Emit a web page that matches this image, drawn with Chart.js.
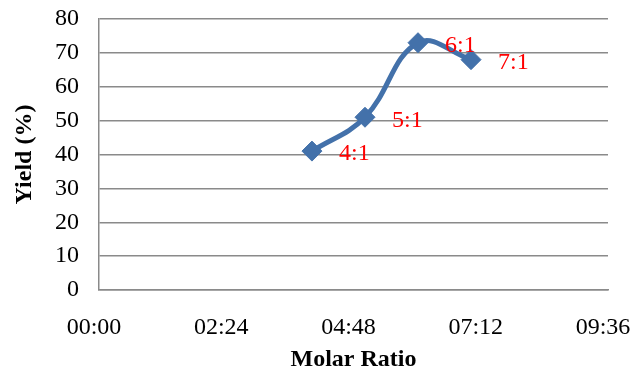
<!DOCTYPE html>
<html>
<head>
<meta charset="utf-8">
<script src="https://cdn.jsdelivr.net/npm/chart.js@4/dist/chart.umd.min.js"></script>
<style>
  html, body { margin: 0; padding: 0; background: #fff; }
  #wrap { width: 630px; height: 372px; }
</style>
</head>
<body>
<div id="wrap"><canvas id="yieldChart" width="630" height="372"></canvas></div>
<script>
// molar ratios (Excel read them as times, so x is in minutes)
const ratioLabels = ["4:1", "5:1", "6:1", "7:1"];
const ratioMinutes = [241, 301, 361, 421];
const yieldValues = [41, 51, 73, 68];

// axis ticks
const xTickMinutes = [0, 144, 288, 432, 576];
const yTicks = [0, 10, 20, 30, 40, 50, 60, 70, 80];

const serif = "'Liberation Serif', 'Times New Roman', serif";
const gridGray = "#8a8a8a";

function toClock(mins) {
  const h = Math.floor(mins / 60);
  const m = Math.round(mins % 60);
  return String(h).padStart(2, "0") + ":" + String(m).padStart(2, "0");
}

// red ratio labels to the right of each point
const ratioLabelPlugin = {
  id: "ratioLabels",
  afterDatasetsDraw(chart) {
    const ctx = chart.ctx;
    const meta = chart.getDatasetMeta(0);
    ctx.save();
    ctx.fillStyle = "#ff0000";
    ctx.font = "24px " + serif;
    ctx.textAlign = "left";
    ctx.textBaseline = "middle";
    meta.data.forEach((pt, i) => {
      ctx.fillText(ratioLabels[i], pt.x + 27, pt.y + 3);
    });
    ctx.restore();
  }
};

new Chart(document.getElementById("yieldChart"), {
  type: "line",
  data: {
    datasets: [{
      data: ratioMinutes.map((x, i) => ({ x: x, y: yieldValues[i] })),
      borderColor: "#4371aa",
      backgroundColor: "#4371aa",
      borderWidth: 5,
      tension: 0.4,
      pointStyle: "rectRot",
      pointRadius: 10,
      pointBorderWidth: 1,
      fill: false
    }]
  },
  options: {
    responsive: false,
    animation: false,
    layout: { padding: { top: 19, right: 22, left: 0, bottom: 0 } },
    plugins: {
      legend: { display: false },
      tooltip: { enabled: false }
    },
    scales: {
      x: {
        type: "linear",
        min: 0,
        max: 576,
        afterBuildTicks: (scale) => { scale.ticks = xTickMinutes.map(v => ({ value: v })); },
        afterFit: (scale) => { scale.height = 82; scale.paddingRight = 0; scale.paddingLeft = 0; },
        grid: { display: false, drawTicks: false },
        border: { color: gridGray, width: 1.5 },
        ticks: {
          color: "#000",
          font: { family: serif, size: 24 },
          padding: 23,
          labelOffset: -5,
          maxRotation: 0,
          callback: (v) => toClock(v)
        },
        title: {
          display: true,
          text: "Molar Ratio",
          color: "#000",
          font: { family: serif, size: 24, weight: "bold", lineHeight: 1 },
          padding: { top: 0, bottom: 0 }
        }
      },
      y: {
        min: 0,
        max: 80,
        afterBuildTicks: (scale) => { scale.ticks = yTicks.map(v => ({ value: v })); },
        afterFit: (scale) => { scale.width = 99; scale.paddingTop = 0; scale.paddingBottom = 0; },
        grid: { color: gridGray, lineWidth: 1.5, drawTicks: false },
        border: { color: gridGray, width: 1.5 },
        ticks: {
          color: "#000",
          font: { family: serif, size: 24 },
          padding: 20
        },
        title: {
          display: true,
          text: "Yield (%)",
          color: "#000",
          font: { family: serif, size: 24, weight: "bold", lineHeight: 1 },
          padding: { top: 13, bottom: 0 }
        }
      }
    }
  },
  plugins: [ratioLabelPlugin]
});
</script>
</body>
</html>
